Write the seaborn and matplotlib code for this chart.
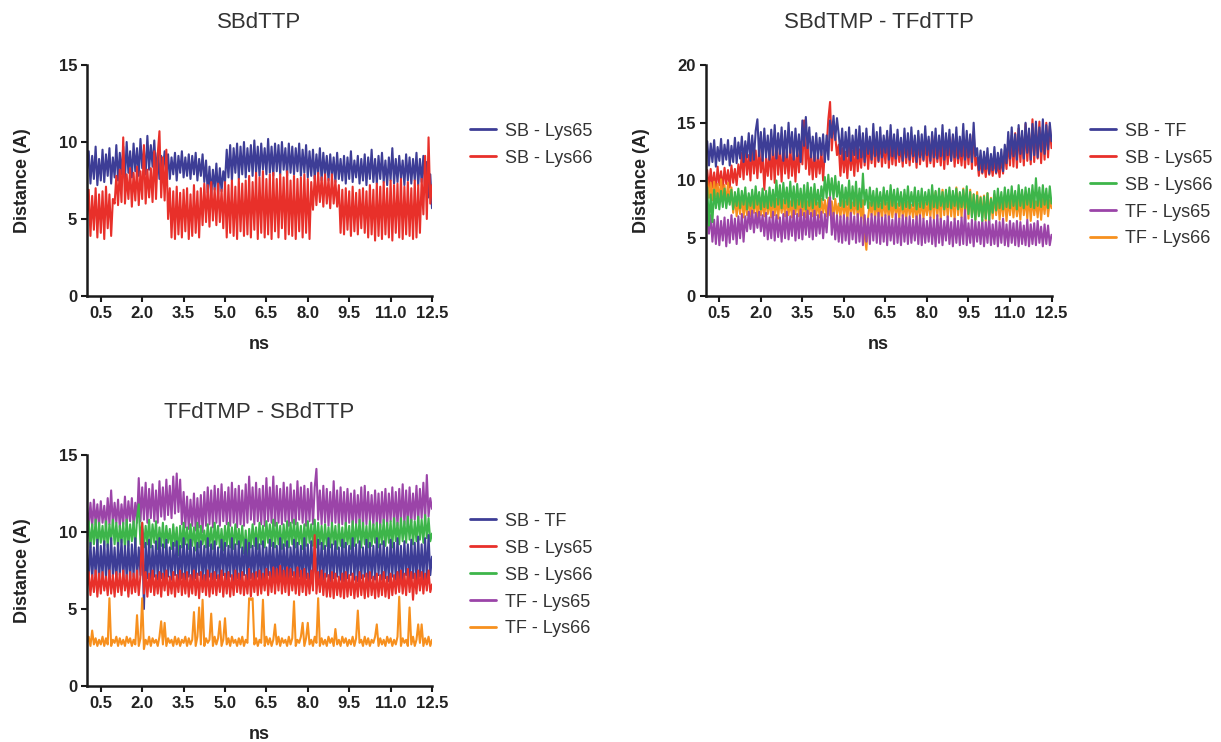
import numpy as np
import pandas as pd
import matplotlib
matplotlib.use("Agg")
import matplotlib.pyplot as plt
import seaborn as sns

# ---------------- data (distance in Angstrom, sampled every 0.0625 ns) ----------------
T_END = 12.5
x_ticks = [0.5, 2.0, 3.5, 5.0, 6.5, 8.0, 9.5, 11.0, 12.5]
titles = ["SBdTTP", "SBdTMP - TFdTTP", "TFdTMP - SBdTTP"]

# Panel 1: SBdTTP
p1_sb_lys65 = [
    8.2, 9.4, 7.3, 9.1, 7.6, 9.7, 7.2, 8.9, 7.5, 9.5,
    7.4, 9.2, 7.8, 9.6, 7.3, 9.0, 7.7, 9.8, 7.5, 9.3,
    7.9, 9.7, 7.6, 10.0, 8.0, 9.4, 7.7, 9.9, 8.1, 9.6,
    7.8, 10.2, 8.3, 9.5, 7.9, 10.4, 8.2, 9.8, 8.4, 10.1,
    8.0, 9.3, 7.6, 9.1, 8.2, 9.4, 7.8, 9.2, 7.6, 9.0,
    7.9, 9.3, 7.5, 9.1, 8.0, 9.4, 7.7, 9.0, 7.8, 9.2,
    7.6, 9.1, 7.9, 9.3, 7.5, 8.9, 7.8, 9.2, 7.4, 8.8,
    6.7, 8.4, 6.5, 8.2, 6.9, 8.6, 6.6, 8.3, 6.8, 8.1,
    7.4, 9.5, 7.7, 9.8, 7.5, 9.6, 8.0, 9.9, 7.6, 9.7,
    7.9, 10.0, 7.7, 9.6, 8.1, 9.8, 7.8, 10.1, 8.0, 9.7,
    7.8, 9.9, 8.2, 9.6, 7.9, 10.2, 8.0, 9.7, 7.8, 9.9,
    8.1, 9.8, 7.9, 10.0, 8.2, 9.6, 7.8, 9.9, 8.0, 9.7,
    7.9, 9.6, 8.1, 9.9, 7.8, 9.5, 8.0, 9.8, 7.7, 9.4,
    7.8, 9.5, 7.6, 9.2, 7.9, 9.6, 7.5, 9.3, 7.8, 9.1,
    7.5, 9.2, 7.7, 9.0, 7.4, 9.3, 7.6, 8.9, 7.5, 9.1,
    7.3, 9.0, 7.6, 9.4, 7.4, 8.8, 7.7, 9.1, 7.3, 8.9,
    7.5, 9.2, 7.2, 9.0, 7.6, 9.5, 7.4, 8.9, 7.3, 9.1,
    7.6, 9.3, 7.4, 8.8, 7.2, 9.0, 7.5, 9.6, 7.3, 8.9,
    7.4, 9.1, 7.6, 8.8, 7.2, 9.2, 7.5, 9.0, 7.3, 8.9,
    7.5, 9.3, 7.2, 8.9, 7.4, 9.1, 7.0, 8.7, 6.4, 7.9,
    5.7]
p1_sb_lys66 = [
    5.2, 6.9, 3.9, 6.5, 4.3, 7.0, 3.8, 6.6, 4.1, 6.8,
    3.7, 7.1, 4.4, 6.6, 3.9, 6.3, 6.0, 7.8, 5.9, 8.2,
    6.1, 10.3, 6.0, 7.9, 6.3, 8.3, 5.8, 8.0, 6.2, 8.4,
    5.9, 8.1, 6.3, 9.8, 6.0, 8.2, 6.4, 8.3, 6.1, 9.4,
    6.3, 9.2, 10.7, 6.4, 9.0, 6.2, 9.5, 5.0, 7.0, 3.8,
    6.8, 3.7, 7.1, 4.0, 6.7, 3.8, 6.9, 4.2, 7.0, 3.7,
    6.6, 3.9, 7.2, 4.1, 6.8, 3.8, 7.0, 4.6, 7.3, 4.8,
    7.2, 4.5, 7.4, 4.9, 7.0, 4.6, 7.3, 4.8, 6.9, 4.4,
    7.4, 3.8, 7.2, 4.1, 7.5, 3.9, 7.1, 3.7, 7.6, 4.2,
    7.3, 3.9, 7.5, 4.0, 7.8, 3.8, 7.4, 4.3, 8.0, 3.7,
    7.7, 4.1, 8.1, 3.8, 7.6, 4.0, 7.9, 3.7, 8.0, 4.2,
    7.6, 3.8, 7.9, 4.4, 7.7, 3.7, 8.1, 4.0, 7.5, 3.9,
    7.8, 3.7, 7.6, 4.2, 7.7, 3.8, 7.9, 4.1, 7.6, 3.7,
    7.4, 5.6, 7.8, 5.9, 8.0, 6.1, 7.7, 5.8, 7.9, 6.0,
    7.6, 5.7, 7.9, 6.0, 7.5, 5.8, 7.2, 4.1, 6.9, 4.0,
    7.0, 4.3, 6.8, 3.9, 7.1, 4.2, 6.7, 4.0, 6.9, 4.4,
    7.0, 4.1, 6.8, 3.8, 7.2, 4.0, 6.9, 3.6, 7.3, 3.9,
    7.1, 3.7, 7.4, 4.0, 7.0, 3.8, 7.5, 3.6, 7.2, 4.1,
    7.3, 3.8, 7.6, 3.7, 7.1, 4.0, 7.4, 3.9, 7.0, 3.7,
    7.5, 3.8, 7.2, 4.1, 7.6, 5.3, 9.1, 5.0, 10.3, 6.0,
    7.2]

# Panel 2: SBdTMP - TFdTTP
p2_sb_tf = [
    12.6, 13.4, 11.3, 13.2, 11.6, 13.5, 11.2, 12.9, 11.7, 13.6,
    11.4, 13.1, 11.8, 13.5, 11.3, 13.0, 11.6, 13.7, 11.5, 13.3,
    11.9, 13.8, 11.6, 13.4, 12.0, 14.1, 11.7, 13.9, 11.8, 14.3,
    15.3, 12.1, 14.2, 11.7, 14.5, 12.0, 13.9, 11.8, 14.4, 12.2,
    14.8, 11.9, 14.1, 12.3, 14.6, 11.7, 14.3, 12.0, 15.0, 12.4,
    14.2, 11.8, 14.5, 12.1, 14.0, 11.6, 15.2, 13.0, 15.5, 12.8,
    14.6, 12.0, 13.8, 11.7, 14.1, 11.9, 13.7, 12.2, 14.0, 11.6,
    13.9, 11.8, 15.2, 13.7, 15.6, 13.5, 15.4, 14.0, 12.3, 14.5,
    11.8, 14.2, 12.1, 14.6, 11.7, 13.9, 12.2, 14.4, 11.9, 14.7,
    12.0, 14.1, 11.6, 14.5, 12.3, 13.8, 11.8, 14.9, 12.1, 14.2,
    11.7, 14.6, 12.0, 13.9, 12.4, 14.3, 11.8, 14.8, 12.1, 14.0,
    11.9, 14.4, 12.2, 13.7, 11.7, 14.5, 12.0, 14.1, 11.8, 14.6,
    12.1, 13.9, 11.6, 14.3, 12.0, 14.0, 11.8, 14.7, 12.2, 13.8,
    11.7, 14.2, 12.0, 14.5, 11.9, 13.9, 12.1, 14.8, 11.8, 14.1,
    12.2, 14.4, 11.7, 14.0, 12.0, 14.6, 11.9, 13.8, 12.1, 14.9,
    11.8, 14.3, 12.0, 14.0, 11.6, 15.0, 12.1, 12.8, 10.9, 12.6,
    10.7, 12.5, 11.0, 12.8, 10.6, 12.3, 10.9, 12.9, 10.7, 12.4,
    11.0, 12.7, 10.8, 13.1, 11.5, 14.2, 11.9, 14.6, 12.1, 14.0,
    11.8, 14.8, 12.3, 14.3, 11.9, 15.0, 12.4, 14.5, 11.8, 14.9,
    12.2, 15.1, 12.0, 14.6, 12.5, 15.3, 12.3, 14.8, 12.7, 15.0,
    13.4]
p2_sb_lys65 = [
    9.5, 10.9, 9.2, 11.0, 9.4, 10.7, 9.1, 11.2, 9.6, 10.8,
    9.3, 11.1, 9.7, 10.9, 9.4, 11.3, 9.8, 11.0, 9.6, 11.4,
    10.3, 12.4, 10.1, 12.8, 10.5, 12.2, 10.0, 13.0, 10.6, 12.6,
    10.2, 12.9, 10.7, 12.3, 9.2, 12.0, 10.4, 12.7, 10.1, 13.1,
    9.8, 13.4, 10.5, 12.8, 9.9, 13.2, 10.6, 12.5, 10.2, 13.0,
    10.4, 12.7, 9.9, 12.9, 10.7, 13.3, 11.4, 15.2, 11.0, 13.6,
    10.5, 12.4, 10.1, 12.7, 10.3, 12.2, 10.6, 12.5, 10.0, 12.8,
    12.9, 15.3, 16.8, 12.6, 15.0, 13.8, 12.2, 13.1, 10.4, 12.8,
    10.7, 12.5, 10.2, 12.9, 10.9, 12.6, 10.4, 13.0, 10.8, 12.7,
    11.1, 13.3, 11.3, 13.6, 11.0, 13.2, 11.5, 13.9, 11.2, 13.4,
    11.6, 13.7, 11.2, 13.3, 11.5, 13.8, 11.1, 13.5, 11.4, 13.2,
    11.3, 13.6, 11.6, 13.1, 11.2, 13.9, 11.5, 13.4, 11.3, 13.7,
    11.6, 13.3, 11.1, 13.8, 11.4, 13.2, 11.7, 13.6, 11.2, 13.5,
    11.5, 13.9, 11.2, 13.4, 11.6, 13.1, 11.3, 13.7, 11.0, 13.5,
    11.4, 13.2, 11.7, 13.8, 11.2, 13.4, 11.5, 13.0, 11.3, 13.6,
    11.1, 13.5, 11.4, 13.9, 11.0, 14.2, 11.3, 12.0, 10.4, 11.8,
    10.6, 11.7, 10.3, 12.0, 10.5, 11.6, 10.4, 11.9, 10.6, 11.5,
    10.3, 12.1, 10.6, 12.6, 11.0, 13.5, 11.3, 13.9, 11.2, 14.1,
    11.1, 14.5, 11.6, 13.8, 11.3, 14.9, 11.7, 14.2, 11.4, 15.3,
    11.6, 14.6, 11.9, 15.1, 11.5, 14.3, 11.8, 15.0, 12.0, 14.7,
    12.8]
p2_sb_lys66 = [
    7.2, 9.4, 6.1, 8.8, 6.4, 9.2, 7.6, 8.9, 7.5, 9.1,
    7.7, 9.3, 7.6, 8.8, 7.9, 9.2, 7.5, 9.0, 7.8, 9.3,
    7.6, 9.1, 7.9, 9.4, 7.5, 8.9, 7.8, 9.2, 7.6, 9.5,
    7.9, 9.0, 7.5, 9.3, 7.7, 9.1, 7.6, 9.4, 7.8, 9.2,
    7.7, 10.0, 7.9, 9.6, 7.6, 9.8, 8.0, 9.4, 7.7, 9.9,
    7.8, 9.5, 7.6, 9.7, 7.9, 9.3, 7.7, 9.6, 7.5, 9.8,
    7.8, 9.4, 7.6, 9.7, 7.9, 9.2, 7.7, 9.5, 8.3, 10.3,
    8.5, 10.5, 8.7, 10.2, 8.4, 10.4, 8.6, 9.9, 7.8, 9.6,
    7.7, 9.4, 7.9, 10.0, 7.6, 9.5, 7.8, 9.9, 7.5, 9.3,
    7.7, 10.6, 7.9, 9.2, 7.6, 9.4, 7.8, 9.1, 7.5, 9.3,
    7.7, 9.0, 7.6, 9.4, 7.9, 9.1, 7.5, 9.6, 7.8, 9.2,
    7.6, 9.3, 7.8, 9.0, 7.5, 9.2, 7.7, 9.5, 7.6, 9.0,
    7.8, 9.4, 7.5, 9.1, 7.7, 9.3, 7.6, 9.0, 7.9, 9.2,
    7.5, 9.6, 7.7, 9.1, 7.6, 9.3, 7.8, 9.0, 7.5, 9.2,
    7.7, 9.4, 7.6, 9.1, 7.8, 9.3, 7.5, 9.0, 7.7, 9.2,
    7.6, 9.5, 7.1, 9.0, 6.8, 8.8, 6.6, 8.7, 6.9, 8.5,
    6.5, 8.6, 6.7, 8.9, 6.6, 8.4, 7.2, 9.1, 7.4, 9.3,
    7.6, 9.0, 7.5, 9.4, 7.7, 9.2, 7.6, 9.5, 7.8, 9.1,
    7.5, 9.6, 7.8, 9.2, 7.6, 9.4, 7.9, 9.3, 7.7, 9.6,
    7.6, 10.2, 7.8, 9.4, 7.7, 9.6, 7.9, 9.3, 7.6, 9.5,
    8.0]
p2_tf_lys65 = [
    6.2, 7.8, 5.4, 7.0, 4.7, 6.6, 4.5, 6.9, 4.4, 6.5,
    4.8, 6.8, 4.3, 6.6, 4.6, 7.0, 4.9, 6.7, 4.5, 6.9,
    5.0, 7.1, 4.7, 6.9, 5.6, 7.3, 5.8, 7.4, 5.5, 7.2,
    5.9, 7.3, 5.6, 7.0, 5.2, 7.2, 4.9, 6.8, 5.0, 7.3,
    4.8, 7.0, 5.1, 6.8, 4.7, 7.1, 5.0, 7.3, 4.9, 6.9,
    5.2, 7.4, 4.8, 7.1, 5.0, 7.5, 4.9, 7.2, 5.3, 7.4,
    5.1, 7.2, 4.9, 7.4, 5.2, 7.0, 5.4, 7.3, 5.0, 7.1,
    5.5, 7.6, 8.6, 5.3, 7.2, 4.9, 7.0, 4.7, 6.9, 4.6,
    7.0, 4.8, 6.8, 4.5, 7.2, 4.9, 6.9, 4.6, 7.1, 4.7,
    6.8, 4.4, 7.0, 4.7, 6.7, 4.5, 7.1, 4.8, 6.9, 4.6,
    7.2, 4.5, 6.8, 4.7, 7.0, 4.4, 6.9, 4.8, 6.6, 4.5,
    7.1, 4.6, 6.7, 4.4, 7.0, 4.7, 6.8, 4.5, 6.9, 4.6,
    6.6, 4.8, 6.9, 4.5, 7.0, 4.4, 6.7, 4.6, 6.5, 4.7,
    6.8, 4.5, 6.6, 4.3, 7.0, 4.6, 6.7, 4.4, 6.5, 4.8,
    6.9, 4.5, 6.4, 4.3, 6.7, 4.6, 6.5, 4.4, 6.8, 4.5,
    7.5, 4.4, 6.3, 4.6, 6.6, 4.3, 6.5, 4.7, 6.4, 4.5,
    6.6, 4.3, 6.4, 4.6, 6.8, 4.4, 6.2, 4.5, 6.5, 4.3,
    6.4, 4.6, 6.7, 4.4, 6.2, 4.3, 6.5, 4.6, 6.3, 4.4,
    6.5, 4.3, 6.4, 4.5, 6.1, 4.4, 6.6, 4.3, 6.2, 4.5,
    6.3, 4.4, 6.5, 4.6, 6.0, 4.3, 6.2, 4.5, 6.1, 4.4,
    5.3]
p2_tf_lys66 = [
    9.1, 10.0, 8.5, 9.8, 8.3, 9.9, 8.6, 9.7, 8.2, 10.1,
    8.4, 9.6, 8.0, 9.8, 8.3, 9.4, 7.2, 8.6, 6.9, 8.4,
    7.1, 8.7, 6.8, 8.3, 7.0, 8.6, 6.9, 8.4, 7.2, 8.5,
    6.8, 8.6, 7.0, 8.2, 6.9, 8.5, 7.1, 8.3, 6.8, 8.6,
    7.0, 8.4, 6.7, 8.5, 7.2, 8.3, 6.9, 8.6, 7.0, 8.2,
    6.8, 8.5, 7.1, 8.3, 6.9, 8.6, 7.0, 8.4, 6.8, 8.2,
    7.1, 8.3, 6.9, 8.5, 7.0, 8.1, 6.8, 8.4, 7.2, 8.3,
    6.9, 8.5, 7.0, 8.2, 6.7, 8.4, 7.1, 8.0, 6.8, 8.3,
    7.0, 8.2, 6.6, 8.5, 6.9, 8.1, 7.1, 8.4, 6.8, 8.2,
    6.7, 8.3, 5.2, 4.0, 6.8, 8.1, 7.0, 8.4, 6.7, 8.2,
    6.9, 8.0, 6.7, 8.3, 7.0, 8.1, 6.6, 8.4, 6.8, 8.2,
    7.0, 8.0, 6.7, 8.3, 6.9, 8.1, 6.6, 8.2, 7.0, 7.9,
    6.8, 8.2, 6.6, 8.0, 6.9, 8.3, 6.7, 8.1, 7.0, 8.2,
    6.8, 8.9, 6.7, 9.0, 6.9, 8.7, 6.6, 9.2, 7.0, 8.8,
    6.8, 9.1, 6.9, 8.8, 6.6, 9.4, 7.0, 8.9, 6.8, 9.3,
    7.1, 8.9, 6.7, 9.2, 6.9, 8.8, 6.6, 9.0, 7.0, 8.6,
    6.8, 8.7, 6.5, 8.9, 6.9, 8.5, 6.7, 8.8, 7.0, 8.6,
    6.6, 8.4, 6.9, 8.7, 6.5, 8.3, 7.0, 8.6, 6.8, 8.5,
    6.9, 8.3, 6.6, 8.8, 7.0, 8.4, 6.7, 8.7, 6.5, 8.5,
    7.0, 8.2, 6.8, 8.6, 6.6, 8.4, 7.1, 8.7, 6.9, 8.3,
    7.6]

# Panel 3: TFdTMP - SBdTTP
p3_sb_tf = [
    8.6, 7.0, 9.3, 6.9, 9.0, 7.2, 9.5, 6.8, 9.1, 7.1,
    9.4, 6.9, 9.2, 7.0, 9.6, 7.1, 9.0, 6.8, 9.3, 7.2,
    9.5, 6.9, 9.1, 7.0, 9.4, 6.8, 9.2, 7.1, 9.6, 6.9,
    9.0, 7.2, 10.2, 5.0, 9.3, 7.0, 9.5, 6.8, 9.1, 7.1,
    9.4, 6.9, 9.6, 7.0, 9.2, 6.8, 9.5, 7.1, 9.0, 6.9,
    9.3, 7.2, 9.4, 6.8, 9.1, 7.0, 9.6, 6.9, 9.2, 7.1,
    9.5, 6.8, 9.0, 7.0, 9.3, 7.2, 9.4, 6.9, 9.1, 6.8,
    9.6, 7.1, 9.2, 6.9, 9.4, 7.0, 9.0, 6.8, 9.5, 7.2,
    9.3, 6.9, 9.1, 7.1, 9.6, 6.8, 9.2, 7.0, 9.4, 6.9,
    9.0, 7.2, 9.5, 6.8, 9.3, 7.0, 9.1, 6.9, 9.6, 7.1,
    9.2, 6.8, 9.4, 7.0, 9.0, 7.2, 9.5, 6.9, 9.3, 6.8,
    9.1, 7.1, 9.6, 6.9, 9.2, 7.0, 9.4, 6.8, 9.0, 7.2,
    9.5, 6.9, 9.3, 7.1, 9.1, 6.8, 9.6, 7.0, 9.2, 6.9,
    9.4, 7.2, 9.0, 6.8, 9.5, 7.0, 9.3, 6.9, 9.1, 7.1,
    9.6, 6.8, 9.2, 7.0, 9.4, 7.1, 9.0, 6.9, 9.5, 6.8,
    9.3, 7.0, 9.1, 7.2, 9.6, 6.9, 9.2, 6.8, 9.4, 7.0,
    9.0, 7.1, 9.5, 6.8, 9.3, 7.0, 9.1, 6.9, 9.6, 7.2,
    9.2, 6.9, 9.4, 7.0, 9.0, 6.8, 9.5, 7.1, 9.3, 6.9,
    9.6, 7.0, 9.1, 6.8, 9.4, 7.2, 9.2, 6.9, 9.5, 7.0,
    9.3, 6.8, 9.7, 7.1, 9.2, 6.9, 9.6, 7.0, 9.8, 7.2,
    8.4]
p3_sb_lys65 = [
    6.3, 7.4, 5.9, 7.2, 6.1, 7.5, 5.8, 7.3, 6.0, 7.4,
    6.2, 7.1, 5.9, 7.5, 6.0, 7.2, 5.8, 7.4, 6.1, 7.3,
    5.9, 7.5, 6.2, 7.2, 5.8, 7.4, 6.0, 7.3, 6.1, 7.5,
    5.9, 7.2, 10.6, 6.0, 7.4, 5.8, 7.3, 6.1, 7.5, 5.9,
    7.2, 6.0, 7.4, 5.8, 7.3, 6.2, 7.5, 5.9, 7.1, 6.0,
    7.4, 5.8, 7.2, 6.1, 7.5, 5.9, 7.3, 6.0, 7.4, 5.8,
    7.2, 6.0, 7.5, 5.9, 7.3, 5.7, 7.4, 6.1, 7.2, 5.9,
    7.5, 5.8, 7.3, 6.0, 7.4, 5.9, 7.2, 6.1, 7.5, 5.8,
    7.3, 6.0, 7.4, 5.8, 7.2, 5.9, 7.5, 6.1, 7.3, 6.0,
    7.4, 5.9, 7.2, 6.0, 7.6, 5.8, 7.3, 6.1, 7.4, 5.9,
    7.5, 6.0, 7.3, 6.2, 7.6, 5.9, 7.4, 6.1, 7.7, 6.0,
    7.6, 6.2, 7.8, 6.0, 7.5, 6.1, 7.7, 5.9, 7.6, 6.2,
    7.4, 6.0, 7.7, 5.9, 7.5, 6.1, 7.6, 5.9, 7.3, 6.0,
    7.5, 6.2, 9.8, 6.0, 7.4, 6.1, 7.5, 5.9, 7.3, 5.8,
    7.2, 5.8, 7.4, 5.7, 7.3, 5.9, 7.1, 5.8, 7.3, 5.7,
    7.4, 5.8, 7.2, 5.9, 7.3, 5.7, 7.1, 5.8, 7.4, 5.9,
    7.2, 5.7, 7.3, 5.8, 7.4, 5.9, 7.1, 5.7, 7.3, 5.8,
    7.2, 5.9, 7.4, 5.8, 7.1, 5.7, 7.3, 5.9, 7.2, 6.0,
    7.4, 6.1, 7.5, 6.0, 7.3, 5.9, 7.6, 6.1, 7.4, 5.6,
    7.3, 6.0, 7.5, 6.2, 7.4, 6.0, 7.3, 6.2, 7.5, 6.1,
    6.6]
p3_sb_lys66 = [
    9.4, 10.7, 9.0, 10.5, 9.2, 10.8, 8.9, 10.6, 9.3, 10.4,
    9.1, 10.7, 9.0, 10.5, 9.4, 10.8, 9.2, 10.6, 9.0, 10.4,
    9.3, 10.6, 8.9, 10.8, 9.1, 10.5, 9.4, 10.7, 9.0, 10.9,
    11.8, 9.2, 10.6, 9.0, 10.4, 9.2, 10.8, 9.0, 10.5, 9.3,
    10.7, 8.9, 10.3, 9.1, 10.6, 9.0, 10.4, 9.3, 10.2, 8.9,
    10.5, 9.1, 10.3, 8.5, 10.4, 9.0, 10.6, 9.2, 10.3, 8.9,
    10.5, 9.1, 10.3, 8.8, 10.6, 9.0, 10.4, 9.2, 10.1, 9.0,
    10.5, 9.1, 10.3, 8.9, 10.6, 9.2, 10.4, 9.0, 10.2, 8.8,
    10.4, 9.1, 10.6, 9.0, 10.3, 8.9, 10.5, 9.2, 10.2, 9.0,
    10.4, 8.6, 10.1, 8.3, 10.2, 9.0, 10.5, 9.1, 10.3, 8.9,
    10.6, 9.2, 10.4, 9.0, 10.7, 9.3, 10.5, 9.1, 10.8, 9.0,
    10.6, 9.2, 10.4, 8.9, 10.5, 9.1, 10.7, 9.0, 10.6, 9.2,
    10.8, 9.0, 10.6, 9.2, 10.4, 8.9, 10.5, 9.1, 10.7, 9.3,
    10.5, 9.1, 10.8, 9.0, 10.6, 9.2, 10.4, 8.9, 10.5, 9.1,
    10.3, 9.0, 10.6, 9.2, 10.4, 8.9, 10.5, 9.1, 10.3, 9.0,
    10.6, 9.2, 10.4, 8.9, 10.7, 9.1, 10.5, 9.3, 10.8, 9.0,
    10.6, 9.2, 10.4, 9.0, 10.7, 9.1, 10.5, 9.3, 10.6, 9.0,
    10.5, 9.2, 10.8, 9.1, 10.6, 9.3, 10.7, 9.0, 10.9, 9.4,
    10.6, 9.2, 10.9, 9.4, 10.7, 9.3, 11.0, 9.5, 10.8, 9.2,
    10.7, 9.4, 11.0, 9.5, 10.8, 9.3, 11.1, 9.6, 10.9, 9.4,
    9.9]
p3_tf_lys65 = [
    11.6, 10.4, 11.9, 10.3, 12.1, 10.5, 11.8, 10.4, 12.0, 10.6,
    11.7, 10.3, 12.2, 10.5, 12.7, 10.4, 11.9, 10.6, 12.1, 10.3,
    11.8, 10.5, 12.3, 10.4, 12.0, 10.7, 12.2, 10.4, 11.9, 10.6,
    13.5, 10.7, 12.9, 10.8, 13.2, 10.6, 12.8, 10.9, 13.1, 10.7,
    12.7, 10.6, 13.3, 11.0, 12.9, 10.8, 13.4, 11.1, 13.0, 10.9,
    13.6, 11.2, 13.8, 11.3, 13.4, 10.5, 12.6, 10.3, 12.3, 10.2,
    12.1, 10.4, 12.5, 10.1, 12.2, 10.3, 12.4, 10.0, 12.6, 10.4,
    12.9, 10.5, 12.7, 10.3, 13.0, 10.6, 12.8, 10.4, 13.1, 10.7,
    12.6, 10.5, 12.9, 10.4, 13.2, 10.6, 12.8, 10.3, 13.0, 10.5,
    12.7, 10.4, 13.1, 10.6, 13.6, 10.8, 12.9, 10.5, 13.2, 10.7,
    12.8, 10.5, 13.0, 10.4, 13.5, 10.7, 12.9, 10.6, 13.6, 10.4,
    13.0, 10.6, 12.8, 10.5, 13.2, 10.7, 12.9, 10.4, 13.1, 10.6,
    12.7, 10.5, 13.3, 10.8, 12.9, 10.6, 13.0, 10.4, 12.8, 10.7,
    13.2, 10.5, 12.9, 14.1, 10.8, 12.7, 10.5, 13.0, 10.6, 12.8,
    10.4, 12.6, 10.5, 13.3, 10.6, 12.7, 10.3, 12.9, 10.5, 12.6,
    10.4, 12.8, 10.6, 12.5, 10.3, 12.7, 10.5, 12.4, 10.6, 12.9,
    10.3, 13.0, 10.5, 12.6, 10.7, 12.4, 10.4, 12.7, 10.5, 12.5,
    10.3, 12.6, 10.6, 12.8, 10.4, 12.5, 10.7, 12.9, 10.5, 12.6,
    10.4, 12.8, 10.6, 13.1, 10.5, 12.7, 10.3, 12.9, 10.6, 12.5,
    10.8, 13.0, 10.6, 12.8, 10.9, 13.2, 10.7, 13.7, 11.0, 12.2,
    11.5]
p3_tf_lys66 = [
    2.8, 3.2, 2.6, 3.6, 2.7, 3.1, 2.6, 3.0, 2.7, 3.2,
    2.6, 3.1, 2.7, 5.7, 2.6, 3.0, 2.8, 3.2, 2.6, 3.1,
    2.7, 3.0, 2.6, 3.2, 2.8, 3.1, 2.6, 3.0, 2.7, 4.6,
    2.6, 3.1, 5.7, 2.4, 3.0, 2.7, 3.2, 2.6, 3.1, 2.8,
    3.0, 2.6, 3.2, 4.2, 2.7, 4.1, 2.6, 3.1, 2.8, 3.0,
    2.6, 3.2, 2.7, 3.1, 2.6, 3.0, 2.8, 3.2, 2.6, 3.1,
    2.7, 3.0, 4.8, 2.6, 3.2, 5.1, 2.7, 5.6, 2.6, 3.1,
    2.8, 3.0, 4.7, 2.6, 3.2, 2.7, 3.1, 4.2, 2.6, 3.0,
    4.4, 2.7, 3.1, 2.6, 3.2, 2.8, 3.0, 2.6, 3.1, 2.7,
    3.2, 2.6, 3.0, 2.8, 5.7, 5.6, 5.7, 2.7, 3.1, 2.6,
    3.0, 2.8, 5.6, 2.6, 3.2, 2.7, 3.1, 2.6, 3.0, 4.0,
    2.7, 3.2, 2.6, 3.1, 2.8, 3.0, 2.6, 3.2, 2.7, 3.1,
    5.5, 2.6, 3.0, 2.8, 3.2, 4.1, 2.6, 3.1, 4.1, 2.7,
    3.0, 2.6, 3.2, 2.8, 5.7, 2.6, 3.1, 2.7, 3.0, 2.6,
    3.2, 2.8, 3.1, 2.6, 3.7, 2.7, 3.0, 2.6, 3.2, 2.8,
    3.1, 2.6, 3.0, 2.7, 3.2, 2.6, 3.1, 4.9, 2.8, 3.0,
    2.6, 3.2, 2.7, 3.1, 2.6, 3.0, 2.8, 3.2, 4.0, 2.6,
    3.1, 2.7, 3.0, 2.6, 3.2, 2.8, 3.1, 2.6, 3.0, 2.7,
    3.2, 5.8, 2.6, 3.1, 2.8, 3.0, 2.6, 5.1, 2.7, 3.2,
    2.6, 3.0, 4.0, 2.8, 4.0, 2.6, 3.1, 2.7, 3.2, 2.6,
    3.0]

# ---------------- style ----------------
sns.set_style("ticks")
plt.rcParams["font.family"] = ["Liberation Sans", "DejaVu Sans"]

C_BLUE = "#3d3d96"
C_RED = "#e8302a"
C_GREEN = "#3db54a"
C_PURPLE = "#9b44a8"
C_ORANGE = "#f7901e"
TXT = "#222222"

fig = plt.figure(figsize=(12.21, 7.42), dpi=100)
W, H = 1221.0, 742.0


def make_ax(x0, x1, ytop, ybot):
    return fig.add_axes([x0 / W, 1 - ybot / H, (x1 - x0) / W, (ybot - ytop) / H])


ax1 = make_ax(87, 432, 65, 296)
ax2 = make_ax(705.5, 1051.5, 65, 296)
ax3 = make_ax(87, 432, 455, 686)

panels = [
    (ax1, titles[0], 15,
     [("SB - Lys65", p1_sb_lys65, C_BLUE), ("SB - Lys66", p1_sb_lys66, C_RED)],
     ["SB - Lys65", "SB - Lys66"]),
    (ax2, titles[1], 20,
     [("SB - Lys65", p2_sb_lys65, C_RED), ("SB - TF", p2_sb_tf, C_BLUE),
      ("TF - Lys66", p2_tf_lys66, C_ORANGE), ("TF - Lys65", p2_tf_lys65, C_PURPLE),
      ("SB - Lys66", p2_sb_lys66, C_GREEN)],
     ["SB - TF", "SB - Lys65", "SB - Lys66", "TF - Lys65", "TF - Lys66"]),
    (ax3, titles[2], 15,
     [("TF - Lys65", p3_tf_lys65, C_PURPLE), ("SB - Lys66", p3_sb_lys66, C_GREEN),
      ("SB - TF", p3_sb_tf, C_BLUE), ("SB - Lys65", p3_sb_lys65, C_RED),
      ("TF - Lys66", p3_tf_lys66, C_ORANGE)],
     ["SB - TF", "SB - Lys65", "SB - Lys66", "TF - Lys65", "TF - Lys66"]),
]

for ax, title, ymax, series, order in panels:
    for name, vals, col in series:
        df = pd.DataFrame({"t": np.linspace(0.0, T_END, len(vals)), "d": vals})
        sns.lineplot(data=df, x="t", y="d", ax=ax, color=col, lw=1.5,
                     label=name, legend=False)
    ax.set_xlim(0, 12.5)
    ax.set_ylim(0, ymax)
    ax.set_xticks(x_ticks)
    ax.set_xticklabels([f"{v:.1f}" for v in x_ticks])
    ax.set_yticks(list(range(0, ymax + 1, 5)))
    sns.despine(ax=ax)
    for s in ("left", "bottom"):
        ax.spines[s].set_linewidth(1.8)
        ax.spines[s].set_color("#1a1a1a")
    ax.tick_params(axis="both", direction="out", length=4, width=1.5,
                   colors="#1a1a1a", labelsize=12, pad=3)
    for lab in ax.get_xticklabels() + ax.get_yticklabels():
        lab.set_fontweight("bold")
        lab.set_color(TXT)
    ax.set_xlabel("ns", fontsize=13, fontweight="bold", color=TXT, labelpad=11)
    ax.set_ylabel("Distance (A)", fontsize=13, fontweight="bold", color=TXT, labelpad=20)
    ax.set_title(title, fontsize=16, color="#333333", pad=27)

    handles, labels = ax.get_legend_handles_labels()
    hmap = dict(zip(labels, handles))
    ax.legend([hmap[k] for k in order], order, loc="upper left",
              bbox_to_anchor=(1.11, 0.75), frameon=False, fontsize=13,
              handlelength=1.45, handletextpad=0.5, labelspacing=0.55,
              borderpad=0, borderaxespad=0)
    for line in ax.get_legend().get_lines():
        line.set_linewidth(2.0)
    for txt in ax.get_legend().get_texts():
        txt.set_color("#333333")

fig.savefig("out.png", dpi=100)
